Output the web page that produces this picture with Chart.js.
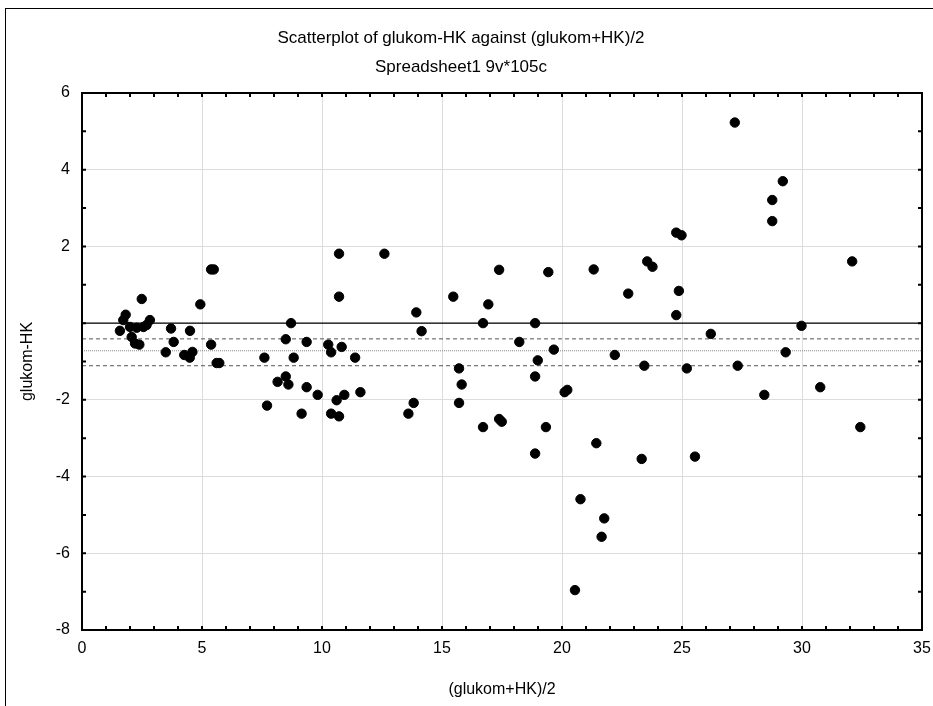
<!DOCTYPE html>
<html>
<head>
<meta charset="utf-8">
<script src="https://cdn.jsdelivr.net/npm/chart.js@4.4.0/dist/chart.umd.min.js"></script>
<style>
  body { margin: 0; background: #fff; }
  #wrap { width: 933px; height: 706px; }
</style>
</head>
<body>
<div id="wrap"><canvas id="mycanvas" width="933" height="706"></canvas></div>
<script>
// (glukom+HK)/2 values
var meanVals = [
  1.58, 1.72, 1.82, 2.00, 2.07, 2.21, 2.39, 2.28, 2.49, 2.56, 2.69, 2.83,
  3.49, 3.71, 3.82, 4.26, 4.50, 4.49, 4.60, 4.93, 5.38, 5.49, 5.38, 5.61, 5.72,
  7.60, 7.71, 8.15, 8.49, 8.60, 8.49, 8.71, 8.82, 9.15, 9.36, 9.36, 9.82,
  10.26, 10.38, 10.82, 10.71, 10.71, 10.61, 10.93, 10.38, 10.71, 11.38, 11.60,
  12.60, 13.60, 13.82, 13.93, 14.15,
  15.47, 15.71, 15.82, 15.71, 16.71, 16.93, 17.38, 16.71, 17.38, 17.49, 18.22,
  19.43, 18.88, 18.99, 19.66, 18.88, 20.11, 20.22, 19.33, 18.88, 21.32, 21.43,
  22.20, 22.76, 23.55, 23.77, 23.43, 23.32, 24.76, 24.98, 24.87, 24.76, 25.20,
  25.54, 26.20, 27.32,
  20.77, 21.76, 21.65, 20.54,
  27.20, 29.20, 28.76, 28.76, 32.09, 29.98, 29.32, 28.43, 30.76, 32.43
];
// glukom-HK values
var diffVals = [
  -0.20, 0.08, 0.22, -0.10, -0.36, -0.53, -0.56, -0.12, 0.63, -0.10, -0.05, 0.08,
  -0.76, -0.14, -0.49, -0.83, -0.20, -0.90, -0.75, 0.49, 1.40, 1.40, -0.56, -1.04, -1.04,
  -0.90, -2.15, -1.53, -1.39, -1.60, -0.42, 0.00, -0.90, -2.36, -0.49, -1.67, -1.87,
  -0.56, -0.76, -0.62, 0.69, 1.81, -2.01, -1.87, -2.36, -2.43, -0.90, -1.80,
  1.81, -2.36, -2.08, 0.28, -0.21,
  0.69, -1.18, -1.60, -2.08, 0.00, 0.49, 1.39, -2.71, -2.50, -2.57, -0.49,
  1.33, 0.00, -0.97, -0.69, -1.39, -1.80, -1.74, -2.71, -3.40, 1.40, -3.13,
  -0.83, 0.77, 1.61, 1.47, -1.11, -3.54, 2.36, 2.29, 0.84, 0.21, -1.18,
  -3.48, -0.28, -1.11,
  -4.59, -5.09, -5.57, -6.96,
  5.23, 3.70, 3.21, 2.66, 1.61, -0.07, -0.76, -1.87, -1.67, -2.71
];
// horizontal reference lines: zero, upper limit, mean, lower limit
var refLevels = [0, -0.41, -0.72, -1.11];
var refColors = ['#000000', '#555555', '#888888', '#555555'];
var refDash = [[], [4, 3], [1, 1], [4, 3]];
var refWidth = [1.2, 1, 1, 1];

var xMin = 0, xMax = 35, yMin = -8, yMax = 6;

var points = [];
for (var i = 0; i < meanVals.length; i++) {
  points.push({ x: meanVals[i], y: diffVals[i] });
}

var datasets = [{
  type: 'scatter',
  data: points,
  backgroundColor: '#000',
  borderColor: '#000',
  pointRadius: 4.7,
  pointHoverRadius: 4.7,
  order: 0
}];
for (var j = 0; j < refLevels.length; j++) {
  datasets.push({
    type: 'line',
    data: [{ x: xMin, y: refLevels[j] }, { x: xMax, y: refLevels[j] }],
    borderColor: refColors[j],
    borderWidth: refWidth[j],
    borderDash: refDash[j],
    pointRadius: 0,
    fill: false,
    order: 1
  });
}

var font = "'Liberation Sans', Arial, sans-serif";

var framePlugin = {
  id: 'frame',
  beforeDraw: function(chart) {
    var c = chart.ctx;
    c.save();
    c.fillStyle = '#fff';
    c.fillRect(0, 0, chart.width, chart.height);
    c.strokeStyle = '#000';
    c.lineWidth = 1;
    c.strokeRect(5.5, 8.5, chart.width + 10, chart.height + 10);
    c.restore();
  },
  afterDraw: function(chart) {
    var c = chart.ctx, a = chart.chartArea;
    var xs = chart.scales.x, ys = chart.scales.y;
    c.save();
    c.strokeStyle = '#000';
    c.lineWidth = 2;
    c.strokeRect(a.left, a.top, a.right - a.left, a.bottom - a.top);
    c.beginPath();
    xs.ticks.forEach(function(t) {
      var px = xs.getPixelForValue(t.value);
      c.moveTo(px, a.bottom); c.lineTo(px, a.bottom - 4);
      c.moveTo(px, a.top); c.lineTo(px, a.top + 4);
    });
    ys.ticks.forEach(function(t) {
      var py = ys.getPixelForValue(t.value);
      c.moveTo(a.left, py); c.lineTo(a.left + 4, py);
      c.moveTo(a.right, py); c.lineTo(a.right - 4, py);
    });
    c.stroke();
    c.restore();
  }
};

var ctx = document.getElementById('mycanvas');
var chart = new Chart(ctx, {
  data: { datasets: datasets },
  options: {
    responsive: false,
    animation: false,
    devicePixelRatio: 1,
    layout: { padding: { left: 0, right: 11, top: 0, bottom: 0 } },
    plugins: {
      legend: { display: false },
      tooltip: { enabled: false },
      title: {
        display: true,
        text: 'Scatterplot of glukom-HK against (glukom+HK)/2',
        color: '#000',
        font: { family: font, size: 17, weight: 'normal' },
        padding: { top: 28, bottom: 8.6 }
      },
      subtitle: {
        display: true,
        text: 'Spreadsheet1 9v*105c',
        color: '#000',
        font: { family: font, size: 17, weight: 'normal' },
        padding: { top: 0, bottom: 15.6 }
      }
    },
    scales: {
      x: {
        type: 'linear',
        position: 'bottom',
        min: xMin, max: xMax,
        afterFit: function(s) {
          s.height = 76;
          s.paddingLeft = 0;
          s.paddingRight = 0;
        },
        ticks: {
          stepSize: 1,
          autoSkip: false,
          maxRotation: 0,
          padding: 9,
          color: '#000',
          font: { family: font, size: 16 },
          callback: function(v) { return v % 5 === 0 ? String(v) : ''; }
        },
        grid: {
          drawTicks: false,
          color: function(c) { return c.tick && c.tick.value % 5 === 0 ? '#dcdcdc' : 'rgba(0,0,0,0)'; }
        },
        border: { display: false },
        title: {
          display: true,
          text: '(glukom+HK)/2',
          color: '#000',
          font: { family: font, size: 16 },
          padding: { top: 0, bottom: 6.4 }
        }
      },
      y: {
        type: 'linear',
        position: 'left',
        min: yMin, max: yMax,
        afterFit: function(s) {
          s.width = 82;
          s.paddingTop = 0;
          s.paddingBottom = 0;
        },
        ticks: {
          stepSize: 1,
          autoSkip: false,
          padding: 12,
          color: '#000',
          font: { family: font, size: 16 },
          callback: function(v) { return (v % 2 === 0 && v !== 0) ? String(v) : ''; }
        },
        grid: {
          drawTicks: false,
          color: function(c) { return c.tick && c.tick.value % 2 === 0 ? '#dcdcdc' : 'rgba(0,0,0,0)'; }
        },
        border: { display: false },
        title: {
          display: true,
          text: 'glukom-HK',
          color: '#000',
          font: { family: font, size: 16 },
          padding: { top: 18.4, bottom: 0 }
        }
      }
    }
  },
  plugins: [framePlugin]
});
</script>
</body>
</html>
